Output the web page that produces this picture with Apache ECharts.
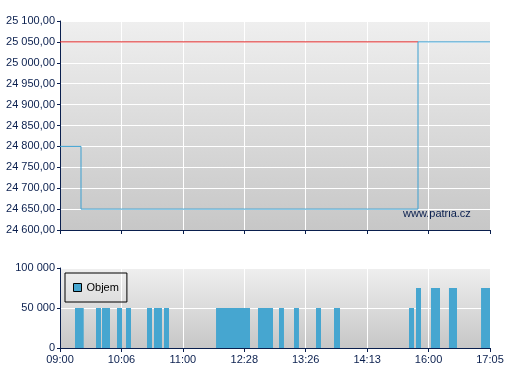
<!DOCTYPE html>
<html><head><meta charset="utf-8">
<script src="https://cdn.jsdelivr.net/npm/echarts@6/dist/echarts.min.js"></script>
<style>html,body{margin:0;padding:0;background:#fff}#c{width:507px;height:380px}</style>
</head><body><div id="c"></div>
<script>
// x axis: 8 evenly spaced ticks (index-based time axis)
const timeLabels = ['09:00','10:06','11:00','12:28','13:26','14:13','16:00','17:05'];
// price steps [x position (tick units), price]
const priceX = [0, 0.342, 5.828, 7];
const priceY = [24800, 24650, 25050, 25050];
const refPrice = 25050;
const refEndX = 5.828;
// volume bars: start, end (tick units), volume
const volStart = [0.244,0.586,0.684,0.928,1.074,1.416,1.530,1.693,2.540,3.223,3.565,3.809,4.167,4.460,5.681,5.795,6.039,6.332,6.854];
const volEnd   = [0.386,0.667,0.814,1.009,1.156,1.498,1.660,1.774,3.093,3.467,3.646,3.890,4.249,4.558,5.763,5.877,6.186,6.463,7.000];
const volValue = [50000,50000,50000,50000,50000,50000,50000,50000,50000,50000,50000,50000,50000,50000,50000,75000,75000,75000,75000];

const navy = '#0a1f4e';
const blue = '#46a6d0';
const font = 'Liberation Sans, Arial, sans-serif';
function fmtNum(v, dec){
  const s = v.toFixed(dec);
  let [i, d] = s.split('.');
  i = i.replace(/\B(?=(\d{3})+(?!\d))/g, ' ');
  return d ? i + ',' + d : i;
}
const bg = {type:'linear',x:0,y:0,x2:0,y2:1,colorStops:[{offset:0,color:'#efefef'},{offset:1,color:'#c7c7c7'}]};

const chart = echarts.init(document.getElementById('c'), null, {renderer:'canvas'});
const volData = volStart.map((s,i)=>[s, volEnd[i], volValue[i]]);
chart.setOption({
  animation:false,
  textStyle:{fontFamily:font},
  grid:[
    {left:60, top:21, width:430, height:209, show:true, backgroundColor:bg, borderWidth:0},
    {left:60, top:268, width:430, height:80, show:true, backgroundColor:bg, borderWidth:0}
  ],
  legend:{
    left:65, top:273, orient:'vertical',
    padding:[9,8,9,8], borderColor:'#000', borderWidth:1, borderRadius:0,
    itemWidth:8, itemHeight:8, itemGap:4,
    textStyle:{color:'#000', fontSize:11, fontFamily:font},
    data:[{name:'Objem', icon:'rect', itemStyle:{color:blue, borderColor:'#000', borderWidth:1}}]
  },
  xAxis:[
    {gridIndex:0, type:'value', min:0, max:7, interval:1,
     axisLine:{lineStyle:{color:navy,width:1}}, axisTick:{length:4, lineStyle:{color:navy}},
     axisLabel:{show:false}, splitLine:{show:true, lineStyle:{color:'#fff',width:1}}},
    {gridIndex:1, type:'value', min:0, max:7, interval:1,
     axisLine:{lineStyle:{color:navy,width:1}}, axisTick:{length:4, lineStyle:{color:navy}},
     axisLabel:{color:navy, fontSize:11, margin:6, formatter:v=>timeLabels[Math.round(v)]},
     splitLine:{show:true, lineStyle:{color:'#fff',width:1}}}
  ],
  yAxis:[
    {gridIndex:0, type:'value', min:24600, max:25100, interval:50,
     axisLine:{show:true, lineStyle:{color:navy,width:1}}, axisTick:{show:true,length:3, lineStyle:{color:navy}},
     axisLabel:{color:navy, fontSize:11, margin:5, formatter:v=>fmtNum(v,2)},
     splitLine:{show:true, lineStyle:{color:'#fff',width:1}}},
    {gridIndex:1, type:'value', min:0, max:100000, interval:50000,
     axisLine:{show:true, lineStyle:{color:navy,width:1}}, axisTick:{show:true,length:3, lineStyle:{color:navy}},
     axisLabel:{color:navy, fontSize:11, margin:5, formatter:v=>fmtNum(v,0)},
     splitLine:{show:true, lineStyle:{color:'#fff',width:1}}}
  ],
  graphic:[{type:'text', left:403, top:208, style:{text:'www.patria.cz', fill:navy, font:'11px '+font}}],
  series:[
    {type:'line', name:'ref', xAxisIndex:0, yAxisIndex:0, symbol:'none',
     lineStyle:{color:'#e02424', width:1}, data:[[0,refPrice],[refEndX,refPrice]], z:2},
    {type:'line', name:'Cena', xAxisIndex:0, yAxisIndex:0, symbol:'none', step:'end',
     lineStyle:{color:'#3a9fd0', width:1}, data:priceX.map((x,i)=>[x,priceY[i]]), z:3},
    {type:'custom', name:'Objem', xAxisIndex:1, yAxisIndex:1, itemStyle:{color:blue},
     data:volData,
     renderItem:(params, api)=>{
       const p0 = api.coord([api.value(0), api.value(2)]);
       const p1 = api.coord([api.value(1), 0]);
       return {type:'rect', shape:{x:p0[0], y:p0[1], width:p1[0]-p0[0], height:p1[1]-p0[1]}, style:{fill:blue}};
     }}
  ]
});
</script></body></html>
